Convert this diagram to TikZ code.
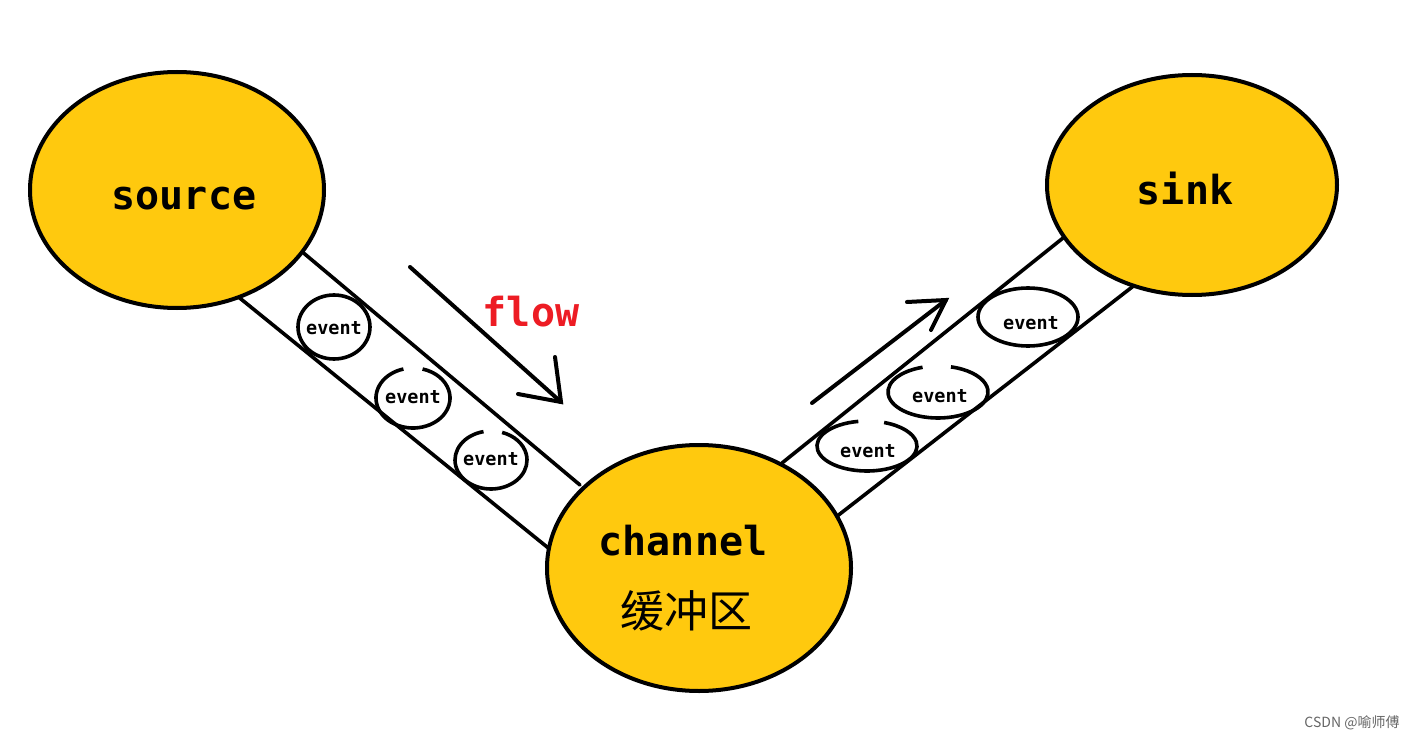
\documentclass[tikz,border=0pt]{standalone}
\usepackage{fontspec}
\usetikzlibrary{shapes.geometric}
\newfontfamily\monob{DejaVu Sans Mono}
\newfontfamily\cjk{Noto Sans CJK SC}
\definecolor{gold}{HTML}{FFC90E}
\definecolor{flowred}{HTML}{ED1C24}
\definecolor{wmgray}{HTML}{666666}
\begin{document}
\begin{tikzpicture}[x=1pt,y=-1pt,
  blob/.style={ellipse, draw=black, line width=4pt, fill=gold, inner sep=0pt},
  tube/.style={line width=3.6pt, line cap=round},
  evt/.style={line width=3.6pt},
  arr/.style={line width=4pt, line cap=round, line join=miter},
  big/.style={font=\monob\bfseries\fontsize{40}{40}\selectfont, inner sep=0pt},
  evtxt/.style={font=\monob\bfseries\fontsize{18.5}{18.5}\selectfont, inner sep=0pt},
  cn/.style={font=\cjk\fontsize{44}{44}\selectfont, inner sep=0pt}]
\useasboundingbox (0,0) rectangle (1417,741);
\fill[white] (0,0) rectangle (1417,741);

% tube end points
\coordinate (lu1) at (300,250);
\coordinate (lu2) at (580,485);
\coordinate (ll1) at (236,295);
\coordinate (ll2) at (552,551);
\coordinate (ru1) at (782,463);
\coordinate (ru2) at (1063,238);
\coordinate (rl1) at (836,517);
\coordinate (rl2) at (1136,284);

\draw[tube] (lu1) -- (lu2);
\draw[tube] (ll1) -- (ll2);
\draw[tube] (ru1) -- (ru2);
\draw[tube] (rl1) -- (rl2);

% main ellipses
\node[blob, minimum width=294pt, minimum height=236pt] (source) at (177,190) {};
\node[blob, minimum width=290pt, minimum height=220pt] (sink) at (1192,185) {};
\node[blob, minimum width=304pt, minimum height=246pt] (channel) at (699,568) {};

\node[big] (tsource) at (184,199) {source};
\node[big] (tsink) at (1185,189) {sink};
\node[big] (tchannel) at (683,541) {channel};
\node[cn] (tbuf) at (686,611) {缓冲区};

% events (left tube)
\coordinate (e1) at (334,327);
\coordinate (e2) at (413,398);
\coordinate (e3) at (491,460);
\draw[evt] (e1) ellipse [x radius=36pt, y radius=32pt];
\draw[evt] (e2) ++(105:37pt and 30pt) arc[start angle=105, end angle=435, x radius=37pt, y radius=30pt];
\draw[evt] (e3) ++(102:36pt and 29pt) arc[start angle=102, end angle=432, x radius=36pt, y radius=29pt];
\node[evtxt] (te1) at (334,328) {event};
\node[evtxt] (te2) at (413,397) {event};
\node[evtxt] (te3) at (491,459) {event};

% events (right tube)
\coordinate (e4) at (1028,317);
\coordinate (e5) at (938,392);
\coordinate (e6) at (867,446);
\draw[evt] (e4) ellipse [x radius=50pt, y radius=29pt];
\draw[evt] (e5) ++(108:50pt and 26pt) arc[start angle=108, end angle=435, x radius=50pt, y radius=26pt];
\draw[evt] (e6) ++(100:50pt and 25pt) arc[start angle=100, end angle=430, x radius=50pt, y radius=25pt];
\node[evtxt] (te4) at (1031,323) {event};
\node[evtxt] (te5) at (940,396) {event};
\node[evtxt] (te6) at (868,451) {event};

% flow arrows
\coordinate (a1s) at (410,267);
\coordinate (a1e) at (561,402);
\coordinate (a1h1) at (518,394);
\coordinate (a1h2) at (555,357);
\draw[arr] (a1s) -- (a1e);
\draw[arr] (a1h1) -- (a1e) -- (a1h2);

\coordinate (a2s) at (812,403);
\coordinate (a2e) at (946,300);
\coordinate (a2h1) at (907,302);
\coordinate (a2h2) at (931,330);
\draw[arr] (a2s) -- (a2e);
\draw[arr] (a2h1) -- (a2e) -- (a2h2);

\node[big, text=flowred] (tflow) at (531,312) {flow};

% watermark
\node[font=\cjk\fontsize{14}{14}\selectfont, text=wmgray, inner sep=0pt] (wm) at (1352,723) {CSDN @喻师傅};
\end{tikzpicture}
\end{document}
